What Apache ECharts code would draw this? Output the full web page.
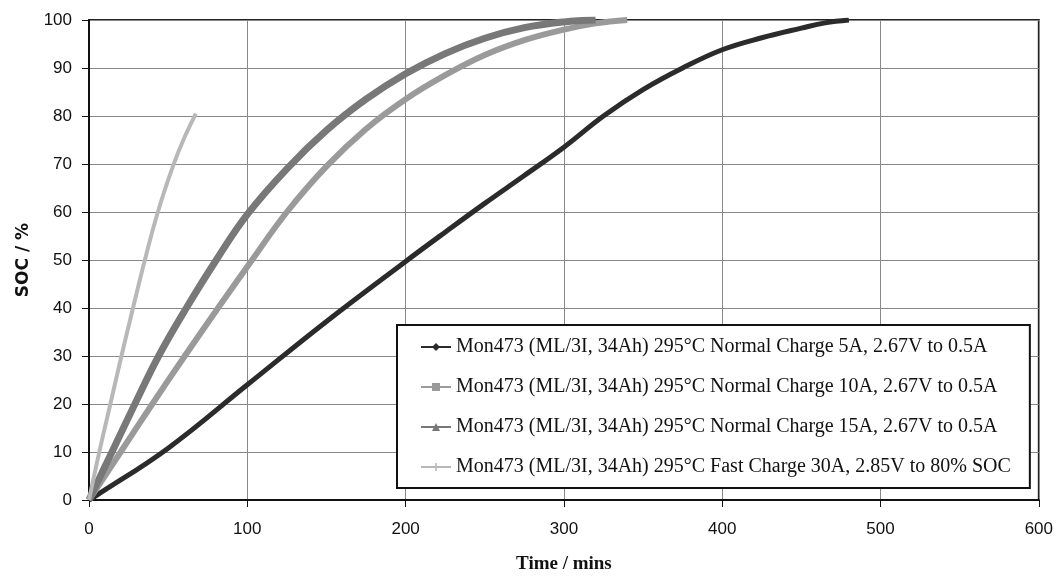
<!DOCTYPE html>
<html>
<head>
<meta charset="utf-8">
<script src="https://cdn.jsdelivr.net/npm/echarts@6/dist/echarts.min.js"></script>
<style>
  html, body { margin: 0; padding: 0; background: #fff; }
  #chart { width: 1056px; height: 579px; }
</style>
</head>
<body>
<div id="chart"></div>
<script>
// series names
const seriesNames = [
  'Mon473 (ML/3I, 34Ah) 295°C Normal Charge 5A, 2.67V to 0.5A',
  'Mon473 (ML/3I, 34Ah) 295°C Normal Charge 10A, 2.67V to 0.5A',
  'Mon473 (ML/3I, 34Ah) 295°C Normal Charge 15A, 2.67V to 0.5A',
  'Mon473 (ML/3I, 34Ah) 295°C Fast Charge 30A, 2.85V to 80% SOC'
]
// [time / mins, SOC / %]
const charge5A = [[0, 0], [5, 1], [50, 10.8], [100, 24], [150, 37.2], [200, 49.7], [225, 55.8],
  [250, 61.8], [275, 67.6], [300, 73.5], [325, 80], [350, 85.5], [375, 90], [400, 93.8],
  [425, 96.3], [450, 98.3], [465, 99.4], [480, 100]]
const charge10A = [[0, 0], [20, 10], [40, 20], [60.5, 30], [81.5, 40], [103, 50], [125, 60],
  [150, 69.5], [175, 77.3], [200, 83.5], [225, 88.5], [250, 92.7], [275, 95.8], [300, 98],
  [320, 99.3], [340, 100]]
const charge15A = [[0, 0], [14.5, 10], [29, 20], [44, 30], [61.5, 40], [80.4, 50], [100, 59.5],
  [125, 69], [150, 77], [175, 83.5], [200, 88.8], [225, 93], [250, 96.2], [275, 98.4],
  [300, 99.6], [320, 100]]
const fast30A = [[0, 0], [6.5, 10], [13.5, 20], [20.5, 30], [27.8, 40], [35.3, 50], [43.5, 60],
  [53, 69.5], [60, 75.3], [67.5, 80.5]]

const chart = echarts.init(document.getElementById('chart'))

function lineSeries (name, data, color, width, symbol, symbolSize) {
  return {
    name: name,
    type: 'line',
    data: data,
    smooth: 0.4,
    showSymbol: false,
    symbol: symbol,
    symbolSize: symbolSize,
    itemStyle: { color: color },
    lineStyle: { color: color, width: width },
    emphasis: { disabled: true },
    z: 3
  }
}

const option = {
  animation: false,
  backgroundColor: '#fff',
  grid: {
    left: 89,
    right: 15,
    top: 20,
    bottom: 75,
    show: true,
    borderColor: '#222',
    borderWidth: 2
  },
  legend: {
    orient: 'vertical',
    left: 397,
    top: 325,
    padding: [12, 19, 11, 23],
    itemGap: 20,
    itemWidth: 30,
    itemHeight: 10,
    backgroundColor: '#fff',
    borderColor: '#111',
    borderWidth: 2,
    textStyle: {
      fontFamily: 'Liberation Serif',
      fontSize: 20,
      lineHeight: 20,
      color: '#111'
    },
    data: seriesNames
  },
  xAxis: {
    type: 'value',
    min: 0,
    max: 600,
    interval: 100,
    name: 'Time / mins',
    nameLocation: 'middle',
    nameGap: 55,
    nameTextStyle: {
      fontFamily: 'Liberation Serif',
      fontWeight: 'bold',
      fontSize: 19,
      color: '#111'
    },
    axisLine: { lineStyle: { color: '#111', width: 2 } },
    axisTick: { show: true, length: 7, lineStyle: { color: '#111' } },
    axisLabel: { fontFamily: 'Liberation Sans', fontSize: 17, color: '#111', margin: 21 },
    splitLine: { show: true, lineStyle: { color: '#888', width: 1 } }
  },
  yAxis: {
    type: 'value',
    min: 0,
    max: 100,
    interval: 10,
    name: 'SOC / %',
    nameLocation: 'middle',
    nameGap: 57,
    nameTextStyle: {
      fontFamily: 'DejaVu Sans',
      fontWeight: 'bold',
      fontSize: 17,
      color: '#111'
    },
    axisLine: { show: true, lineStyle: { color: '#111', width: 2 } },
    axisTick: { show: true, length: 7, lineStyle: { color: '#111' } },
    axisLabel: { fontFamily: 'Liberation Sans', fontSize: 17, color: '#111', margin: 17 },
    splitLine: { show: true, lineStyle: { color: '#888', width: 1 } }
  },
  series: [
    lineSeries(seriesNames[0], charge5A, '#2b2b2b', 5, 'diamond', 9),
    lineSeries(seriesNames[1], charge10A, '#9a9a9a', 6, 'rect', 6),
    lineSeries(seriesNames[2], charge15A, '#787878', 7, 'triangle', 8),
    lineSeries(seriesNames[3], fast30A, '#b8b8b8', 4, 'path://M4,0h2v10h-2zM0,4h10v2h-10z', 7)
  ]
}

chart.setOption(option)
</script>
</body>
</html>
